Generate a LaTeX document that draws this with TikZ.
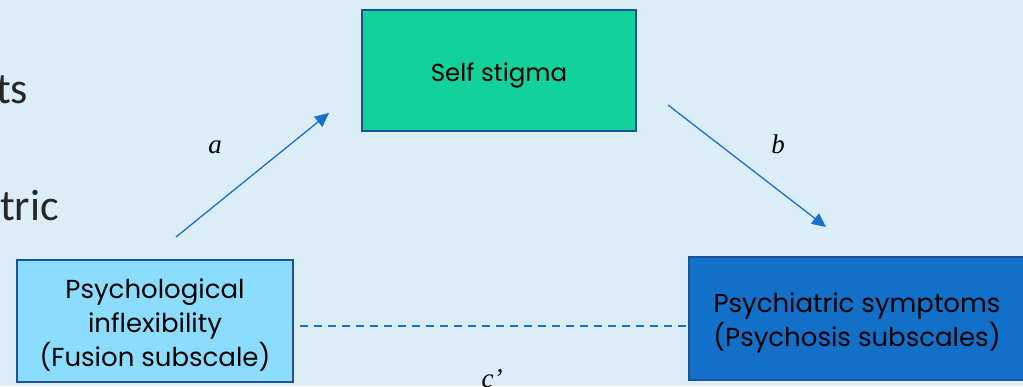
\documentclass[tikz,border=0pt]{standalone}
\usepackage{fontspec}
\setmainfont{Poppins}
\newfontfamily\calfont{Carlito}
\newfontfamily\timesfont{Liberation Serif}
\usetikzlibrary{arrows.meta}
\definecolor{bgc}{HTML}{DBEEF8}
\definecolor{greenfill}{HTML}{13D19B}
\definecolor{lightfill}{HTML}{8CDDFD}
\definecolor{darkfill}{HTML}{1270C9}
\definecolor{borderc}{HTML}{1D5294}
\definecolor{arrowc}{HTML}{1A70CC}
\definecolor{textgray}{HTML}{262626}
\tikzset{
  varbox/.style={draw=borderc, line width=2pt, inner sep=0pt},
  boxtext/.style={align=center, inner sep=0pt, text=black, font=\fontsize{26}{34}\selectfont},
  pathlabel/.style={font=\timesfont\itshape\fontsize{27}{30}\selectfont, anchor=base, inner sep=0pt},
  patharrow/.style={draw=arrowc, line width=1.3pt, -{Triangle[length=14pt,width=13pt]}},
  direct/.style={draw=arrowc, line width=2pt, dash pattern=on 8pt off 6pt},
  cuttext/.style={font=\calfont\fontsize{44}{50}\selectfont, text=textgray, anchor=base west, inner sep=0pt}
}
\begin{document}
\begin{tikzpicture}[x=1pt,y=-1pt]
\useasboundingbox (0,0) rectangle (1023,386);
\clip (0,0) rectangle (1023,386);
\fill[bgc] (0,0) rectangle (1023,386);
\node[cuttext] (t1) at (-4,103) {ts};
\node[cuttext] (t2) at (0,220) {tric};
\node[varbox, fill=greenfill, minimum width=274pt, minimum height=121pt] (med) at (499,70.5) {};
\node[boxtext, font=\fontsize{24.5}{30}\selectfont] (medtxt) at ([yshift=-5pt]med.center) {Self stigma};
\node[varbox, fill=lightfill, minimum width=276pt, minimum height=122pt] (iv) at (155,321) {};
\node[boxtext] (ivtxt) at ([yshift=-4pt]iv.center) {Psychological\\inflexibility\\(Fusion subscale)};
\node[varbox, fill=darkfill, minimum width=336pt, minimum height=123pt] (dv) at (857,318.5) {};
\node[boxtext] (dvtxt) at ([yshift=-4pt]dv.center) {Psychiatric symptoms\\(Psychosis subscales)};
\coordinate (a1) at (176,237);
\coordinate (a2) at (329,113);
\coordinate (b1) at (668,105);
\coordinate (b2) at (826,227);
\coordinate (c1) at (300,326);
\coordinate (c2) at (688,326);
\draw[patharrow] (a1) -- (a2);
\draw[patharrow] (b1) -- (b2);
\draw[direct] (c1) -- (c2);
\node[pathlabel] (la) at (215,153) {a};
\node[pathlabel] (lb) at (778,153) {b};
\node[pathlabel] (lc) at (492,387) {c’};
\end{tikzpicture}
\end{document}
